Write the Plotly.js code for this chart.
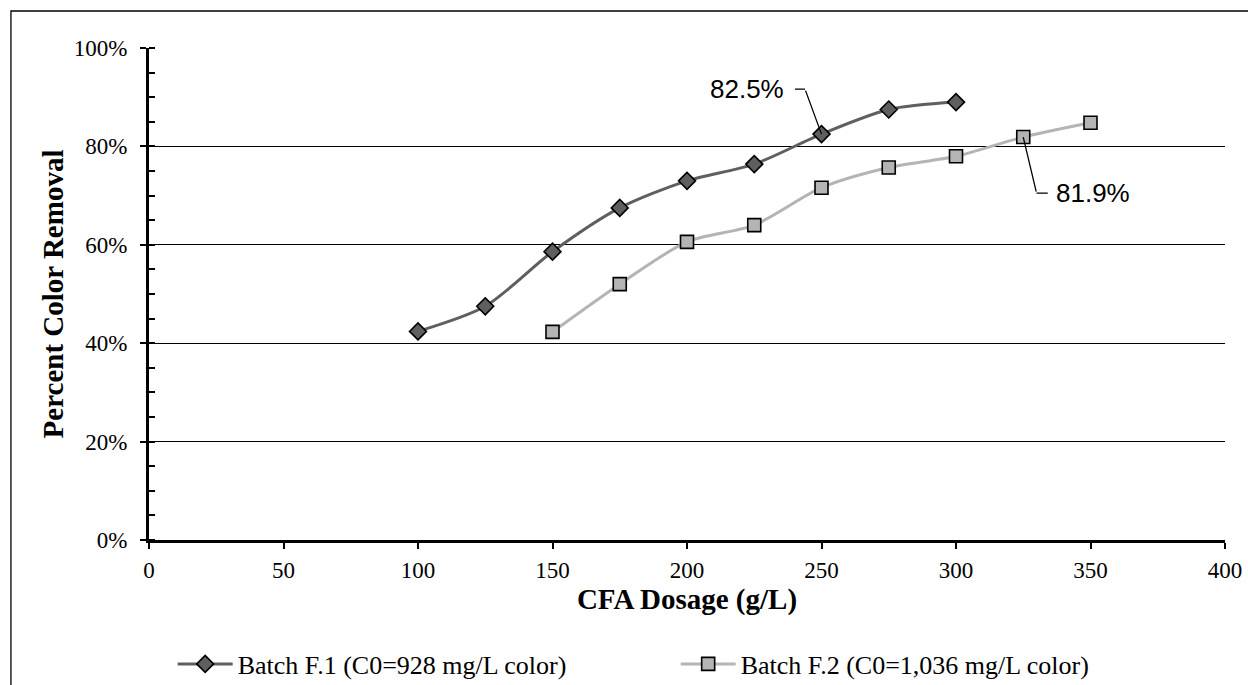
<!DOCTYPE html>
<html>
<head>
<meta charset="utf-8">
<script src="https://cdn.plot.ly/plotly-3.0.1.min.js"></script>
<style>
  html, body { margin: 0; padding: 0; background: #ffffff; }
  #chart { width: 1248px; height: 685px; }
</style>
</head>
<body>
<div id="chart"></div>
<script>
// ---- data ----
const seriesNames = ['Batch F.1 (C0=928 mg/L color)', 'Batch F.2 (C0=1,036 mg/L color)'];
const dosageF1 = [100, 125, 150, 175, 200, 225, 250, 275, 300];
const removalF1 = [42.4, 47.5, 58.6, 67.5, 73.0, 76.4, 82.5, 87.5, 89.0];
const dosageF2 = [150, 175, 200, 225, 250, 275, 300, 325, 350];
const removalF2 = [42.3, 52.0, 60.6, 64.0, 71.6, 75.7, 78.0, 81.9, 84.8];
const labelIndexF1 = 6;   // 250 g/L point labelled
const labelIndexF2 = 7;   // 325 g/L point labelled
const xTitle = 'CFA Dosage (g/L)';
const yTitle = 'Percent Color Removal';

const serif = 'Liberation Serif, Times New Roman, serif';
const sans = 'Liberation Sans, Arial, sans-serif';

const traces = [
  {
    x: dosageF1, y: removalF1, name: seriesNames[0],
    type: 'scatter', mode: 'lines+markers',
    line: { color: '#5f5f5f', width: 3, shape: 'spline', smoothing: 0.8 },
    marker: { symbol: 'diamond', size: 13, color: '#5f5f5f', line: { color: '#000000', width: 1.6 } }
  },
  {
    x: dosageF2, y: removalF2, name: seriesNames[1],
    type: 'scatter', mode: 'lines+markers',
    line: { color: '#b4b4b4', width: 3, shape: 'spline', smoothing: 0.8 },
    marker: { symbol: 'square', size: 13, color: '#b4b4b4', line: { color: '#000000', width: 1.6 } }
  }
];

const pct = v => v.toFixed(1) + '%';

const annotations = [
  // leader line 82.5 %
  { x: dosageF1[labelIndexF1], y: removalF1[labelIndexF1], xref: 'x', yref: 'y',
    text: '', showarrow: true, arrowhead: 0, arrowwidth: 1.3, arrowcolor: '#000',
    ax: -16.5, ay: -45, standoff: 0 },
  { x: dosageF1[labelIndexF1], y: removalF1[labelIndexF1], xref: 'x', yref: 'y',
    xshift: -16.5, yshift: 45,
    text: pct(removalF1[labelIndexF1]), font: { family: sans, size: 26, color: '#000' },
    showarrow: true, arrowhead: 0, arrowwidth: 1.3, arrowcolor: '#000',
    ax: -58.5, ay: 0, borderpad: 11, standoff: 0 },
  // leader line 81.9 %
  { x: dosageF2[labelIndexF2], y: removalF2[labelIndexF2], xref: 'x', yref: 'y',
    text: '', showarrow: true, arrowhead: 0, arrowwidth: 1.3, arrowcolor: '#000',
    ax: 13.3, ay: 56, standoff: 0 },
  { x: dosageF2[labelIndexF2], y: removalF2[labelIndexF2], xref: 'x', yref: 'y',
    xshift: 13.3, yshift: -56,
    text: pct(removalF2[labelIndexF2]), font: { family: sans, size: 26, color: '#000' },
    showarrow: true, arrowhead: 0, arrowwidth: 1.3, arrowcolor: '#000',
    ax: 56.7, ay: 0, borderpad: 8, standoff: 0 }
];

const layout = {
  width: 1248, height: 685,
  margin: { l: 149, r: 23, t: 48, b: 145, autoexpand: false },
  paper_bgcolor: '#ffffff', plot_bgcolor: '#ffffff',
  font: { family: serif, color: '#000' },
  showlegend: true,
  legend: {
    orientation: 'h', x: 0.022, xanchor: 'left', y: -0.252, yanchor: 'middle',
    font: { family: serif, size: 26, color: '#000' },
    itemwidth: 55,
    entrywidth: 433, entrywidthmode: 'pixels', bgcolor: 'rgba(0,0,0,0)'
  },
  xaxis: {
    range: [0, 400], dtick: 50, tick0: 0,
    showline: true, linecolor: '#000', linewidth: 3,
    ticks: 'outside', ticklen: 6, tickwidth: 2, tickcolor: '#000',
    showgrid: false, zeroline: false,
    tickfont: { family: serif, size: 23, color: '#000' },
    ticklabelstandoff: 1,
    title: { text: xTitle, font: { family: serif, size: 29, color: '#000', weight: 'bold' }, standoff: 8 }
  },
  yaxis: {
    range: [0, 100], dtick: 20, tick0: 0, ticksuffix: '%',
    showline: true, linecolor: '#000', linewidth: 3,
    ticks: 'outside', ticklen: 6, tickwidth: 2, tickcolor: '#000',
    showgrid: true, gridcolor: '#000', gridwidth: 1.2, zeroline: false,
    minor: { dtick: 5, ticks: 'inside', ticklen: 6, tickwidth: 2, tickcolor: '#000', showgrid: false },
    tickfont: { family: serif, size: 23, color: '#000' },
    ticklabelstandoff: 8,
    title: { text: yTitle, font: { family: serif, size: 29, color: '#000', weight: 'bold' }, standoff: 2 }
  },
  annotations: annotations,
  shapes: [
    { type: 'rect', xref: 'paper', yref: 'paper',
      x0: -0.1283, x1: 1.04, y0: -0.35, y1: 1.0752,
      line: { color: '#000', width: 1.3 }, fillcolor: 'rgba(0,0,0,0)', layer: 'below' }
  ]
};

Plotly.newPlot('chart', traces, layout, { displayModeBar: false, staticPlot: true });
</script>
</body>
</html>
